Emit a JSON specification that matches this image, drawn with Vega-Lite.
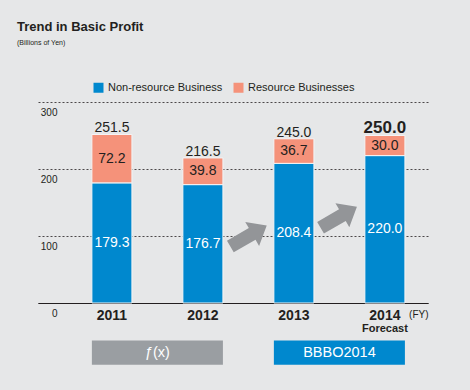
{
  "$schema": "https://vega.github.io/schema/vega-lite/v6.json",
  "width": 390,
  "height": 201,
  "autosize": {"type": "none"},
  "padding": {"left": 38, "top": 102, "right": 42, "bottom": 87},
  "background": "#E6E7E8",
  "config": {
    "view": {"stroke": null},
    "font": "Liberation Sans",
    "axisX": {
      "domain": true,
      "domainColor": "#231F20",
      "domainWidth": 1,
      "ticks": false,
      "grid": false,
      "labelFontSize": 14,
      "labelFontWeight": "bold",
      "labelColor": "#231F20",
      "labelPadding": 5,
      "labelAngle": 0,
      "titleFontSize": 10,
      "titleFontWeight": "normal",
      "titleColor": "#231F20",
      "titleX": 390,
      "titleY": 11,
      "titleAlign": "right",
      "titleBaseline": "middle"
    },
    "axisY": {
      "grid": true,
      "gridDash": [2, 2],
      "gridColor": "#231F20",
      "gridWidth": 0.8,
      "domain": false,
      "ticks": false,
      "tickSize": 0,
      "labelAlign": "right",
      "labelBaseline": "middle",
      "labelPadding": -19,
      "labelOffset": 10,
      "labelFontSize": 10,
      "labelColor": "#231F20"
    }
  },
  "title": {
    "text": "Trend in Basic Profit",
    "subtitle": "(Billions of Yen)",
    "anchor": "start",
    "frame": "group",
    "dx": -21,
    "offset": 36,
    "fontSize": 13,
    "fontWeight": "bold",
    "color": "#231F20",
    "subtitleFontSize": 7,
    "subtitleColor": "#231F20",
    "subtitlePadding": 5
  },
  "datasets": {
    "segments": [
      {"year": "2011", "segment": "Non-resource Business", "value": 179.3},
      {"year": "2011", "segment": "Resource Businesses", "value": 72.2},
      {"year": "2012", "segment": "Non-resource Business", "value": 176.7},
      {"year": "2012", "segment": "Resource Businesses", "value": 39.8},
      {"year": "2013", "segment": "Non-resource Business", "value": 208.4},
      {"year": "2013", "segment": "Resource Businesses", "value": 36.7},
      {"year": "2014", "segment": "Non-resource Business", "value": 220.0},
      {"year": "2014", "segment": "Resource Businesses", "value": 30.0}
    ],
    "totals": [
      {"year": "2011", "total": 251.5},
      {"year": "2012", "total": 216.5},
      {"year": "2013", "total": 245.0},
      {"year": "2014", "total": 250.0}
    ],
    "notes": [{"year": "2014", "note": "Forecast"}],
    "boxes": [
      {"start": "2011", "end": "2012", "label": "ƒ(x)"},
      {"start": "2013", "end": "2014", "label": "BBBO2014"}
    ]
  },
  "layer": [
    {
      "data": {"name": "segments"},
      "mark": {"type": "bar", "stroke": "#F4F4F5", "strokeWidth": 1},
      "encoding": {
        "x": {
          "field": "year",
          "type": "nominal",
          "scale": {"domain": ["2011", "2012", "2013", "2014"], "paddingInner": 0.56, "paddingOuter": 0.4229, "align": 0.7},
          "title": "(FY)"
        },
        "y": {
          "field": "value",
          "type": "quantitative",
          "stack": "zero",
          "scale": {"domain": [0, 300], "nice": false},
          "axis": {"values": [0, 100, 200, 300]},
          "title": null
        },
        "color": {
          "field": "segment",
          "type": "nominal",
          "scale": {"domain": ["Non-resource Business", "Resource Businesses"], "range": ["#0088CE", "#F5927A"]},
          "legend": {
            "orient": "none",
            "legendX": 55,
            "legendY": -20,
            "direction": "horizontal",
            "title": null,
            "symbolType": "square",
            "symbolSize": 100,
            "symbolStrokeWidth": 0,
            "symbolOpacity": 1,
            "labelFontSize": 11,
            "labelColor": "#231F20",
            "labelOffset": 4,
            "columnPadding": 10
          }
        },
        "order": {"field": "segment", "sort": "ascending"}
      }
    },
    {
      "data": {"name": "segments"},
      "transform": [
        {"stack": "value", "groupby": ["year"], "sort": [{"field": "segment", "order": "ascending"}], "as": ["v0", "v1"]},
        {"calculate": "(datum.v0 + datum.v1) / 2", "as": "mid"}
      ],
      "mark": {"type": "text", "fontSize": 14, "baseline": "middle"},
      "encoding": {
        "x": {"field": "year", "type": "nominal", "title": "(FY)"},
        "y": {"field": "mid", "type": "quantitative", "title": null},
        "text": {"field": "value", "type": "quantitative", "format": ".1f"},
        "color": {"condition": {"test": "datum.segment === 'Resource Businesses'", "value": "#231F20"}, "value": "#FFFFFF"}
      }
    },
    {
      "data": {"name": "totals"},
      "transform": [{"filter": "datum.year !== '2014'"}],
      "mark": {"type": "text", "fontSize": 14, "dy": -6, "color": "#231F20"},
      "encoding": {
        "x": {"field": "year", "type": "nominal", "title": "(FY)"},
        "y": {"field": "total", "type": "quantitative", "title": null},
        "text": {"field": "total", "type": "quantitative", "format": ".1f"}
      }
    },
    {
      "data": {"name": "totals"},
      "transform": [{"filter": "datum.year === '2014'"}],
      "mark": {"type": "text", "fontSize": 17, "fontWeight": "bold", "dy": -8, "color": "#231F20"},
      "encoding": {
        "x": {"field": "year", "type": "nominal", "title": "(FY)"},
        "y": {"field": "total", "type": "quantitative", "title": null},
        "text": {"field": "total", "type": "quantitative", "format": ".1f"}
      }
    },
    {
      "data": {"name": "notes"},
      "mark": {"type": "text", "fontSize": 11, "fontWeight": "bold", "dy": 26, "baseline": "middle", "color": "#231F20"},
      "encoding": {
        "x": {"field": "year", "type": "nominal", "title": "(FY)"},
        "y": {"datum": 0, "type": "quantitative", "title": null},
        "text": {"field": "note", "type": "nominal"}
      }
    },
    {
      "data": {"values": [{}]},
      "mark": {"type": "point", "shape": "M-1,-0.32 L0.2,-0.32 L0.2,-0.66 L1,0 L0.2,0.66 L0.2,0.32 L-1,0.32 Z", "size": 1764, "angle": -30, "filled": true, "color": "#939598", "opacity": 1, "strokeWidth": 0},
      "encoding": {
        "x": {"datum": "2012", "type": "nominal", "bandPosition": 1.64, "title": "(FY)"},
        "y": {"datum": 100, "type": "quantitative", "title": null}
      }
    },
    {
      "data": {"values": [{}]},
      "mark": {"type": "point", "shape": "M-1,-0.32 L0.2,-0.32 L0.2,-0.66 L1,0 L0.2,0.66 L0.2,0.32 L-1,0.32 Z", "size": 1764, "angle": -30, "filled": true, "color": "#939598", "opacity": 1, "strokeWidth": 0},
      "encoding": {
        "x": {"datum": "2013", "type": "nominal", "bandPosition": 1.62, "title": "(FY)"},
        "y": {"datum": 128, "type": "quantitative", "title": null}
      }
    },
    {
      "data": {"name": "boxes"},
      "mark": {"type": "rect"},
      "encoding": {
        "x": {"field": "start", "type": "nominal", "bandPosition": 0, "title": "(FY)"},
        "x2": {"field": "end", "bandPosition": 1},
        "y": {"datum": -56, "type": "quantitative", "title": null},
        "y2": {"datum": -92},
        "fill": {"condition": {"test": "datum.label === 'BBBO2014'", "value": "#0088CE"}, "value": "#9A9EA2"}
      }
    },
    {
      "data": {"name": "boxes"},
      "mark": {"type": "text", "fontSize": 14.5, "baseline": "middle", "color": "#FFFFFF"},
      "encoding": {
        "x": {"field": "start", "type": "nominal", "bandPosition": 1.6375, "title": "(FY)"},
        "y": {"datum": -74, "type": "quantitative", "title": null},
        "text": {"field": "label", "type": "nominal"}
      }
    }
  ]
}
